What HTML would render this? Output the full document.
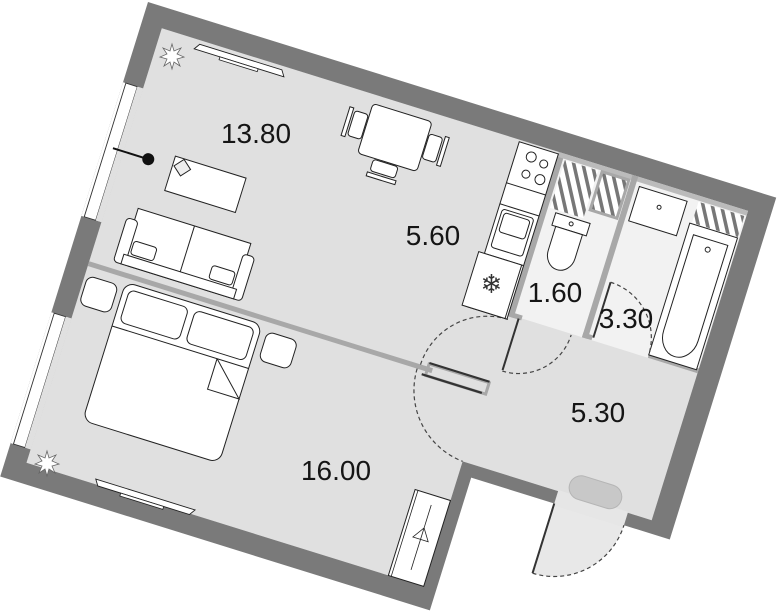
<!DOCTYPE html>
<html><head><meta charset="utf-8"><style>
html,body{margin:0;padding:0;background:#fff;width:780px;height:615px;overflow:hidden;}
svg{display:block;}
text{font-family:"Liberation Sans",sans-serif;font-size:28px;fill:#151515;text-anchor:middle;}
</style></head><body>
<svg width="780" height="615" viewBox="0 0 780 615" xmlns="http://www.w3.org/2000/svg">
<defs>
<pattern id="hatch" width="9" height="9" patternUnits="userSpaceOnUse" patternTransform="rotate(-30)">
<rect width="9" height="9" fill="#fff"/>
<rect x="0" y="0" width="3.5" height="9" fill="#777"/>
</pattern>
</defs>
<g transform="translate(148,2) rotate(17.3)">
  <polygon points="21,21 635,21 635,345 437,345 437,476 21,476" fill="#e0e0e0"/>
  <rect x="437" y="21" width="198" height="170" fill="#f2f2f2"/>
  <path d="M537,358 L610,358 A73,73 0 0 1 537,431 Z" fill="#e8e8e8"/>
  <rect x="537" y="344" width="73" height="16" fill="#e6e6e6"/>
  <path d="M0,0 L658,0 L658,358 L610,358 L610,345 L635,345 L635,21 L21,21 L21,476 L437,476 L437,345 L537,345 L537,358 L450,358 L450,497 L0,497 Z" fill="#7a7a7a"/>
  <rect x="0" y="84" width="21" height="140" fill="#fff"/>
  <rect x="3" y="84" width="12" height="140" fill="#fff" stroke="#333" stroke-width="0.9"/>
  <rect x="15" y="84" width="6" height="140" fill="#e0e0e0"/>
  <rect x="0" y="325" width="21" height="137" fill="#fff"/>
  <rect x="3" y="325" width="12" height="137" fill="#fff" stroke="#333" stroke-width="0.9"/>
  <rect x="15" y="325" width="6" height="137" fill="#e0e0e0"/>
  <line x1="10" y1="150" x2="46" y2="150" stroke="#111" stroke-width="2"/>
  <circle cx="47" cy="150" r="6" fill="#111"/>
  <rect x="21" y="265" width="360" height="5" fill="#a8a8a8"/>
  <rect x="376" y="262" width="63" height="12" fill="none" stroke="#a8a8a8" stroke-width="3"/>
  <line x1="376" y1="261" x2="439" y2="261" stroke="#333" stroke-width="2.2"/>
  <line x1="372" y1="274" x2="435" y2="274" stroke="#333" stroke-width="2.2"/>
  <path d="M438,196 A70,70 0 0 0 368,266" fill="none" stroke="#444" stroke-width="1.2" stroke-dasharray="4,3"/>
  <path d="M366,270 A76,76 0 0 0 437,345" fill="none" stroke="#444" stroke-width="1.2" stroke-dasharray="4,3"/>
  <rect x="437" y="21" width="6" height="172" fill="#a8a8a8"/>
  <rect x="437" y="21" width="198" height="5" fill="#bbb"/>
  <rect x="514" y="21" width="6" height="170" fill="#a8a8a8"/>
  <rect x="437" y="188" width="14" height="5" fill="#a8a8a8"/>
  <rect x="514" y="186" width="10" height="5" fill="#a8a8a8"/>
  <rect x="583" y="186" width="52" height="5" fill="#a8a8a8"/>
  <rect x="445" y="27" width="35" height="50" fill="url(#hatch)"/>
  <rect x="484" y="27" width="28" height="40" fill="url(#hatch)" stroke="#a8a8a8" stroke-width="3"/>
  <rect x="585" y="27" width="48" height="22" fill="url(#hatch)"/>
  <rect x="452" y="80" width="36" height="13" fill="#fff" stroke="#222" stroke-width="1"/>
  <circle cx="470" cy="86" r="2" fill="none" stroke="#222"/>
  <path d="M456,93 L484,93 L484,118 A14,16 0 0 1 456,118 Z" fill="#fff" stroke="#222" stroke-width="1"/>
  <rect x="524" y="30" width="50" height="36" fill="#fff" stroke="#222" stroke-width="1"/>
  <circle cx="549" cy="44" r="2" fill="none" stroke="#222"/>
  <rect x="583" y="50" width="50" height="138" fill="#fff" stroke="#222" stroke-width="1"/>
  <path d="M590,60 L626,60 L626,160 A18,22 0 0 1 590,160 Z" fill="#fff" stroke="#222" stroke-width="1"/>
  <circle cx="608" cy="70" r="2.5" fill="none" stroke="#222"/>
  <line x1="448" y1="192" x2="448" y2="246" stroke="#333" stroke-width="2"/>
  <path d="M448,247 A55,55 0 0 0 503,192" fill="none" stroke="#444" stroke-width="1.2" stroke-dasharray="4,3"/>
  <line x1="525" y1="130" x2="525" y2="188" stroke="#333" stroke-width="2"/>
  <path d="M525,130 A58,58 0 0 1 583,188" fill="none" stroke="#444" stroke-width="1.2" stroke-dasharray="4,3"/>
  <line x1="537" y1="358" x2="537" y2="431" stroke="#333" stroke-width="2"/>
  <path d="M537,431 A73,73 0 0 0 610,358" fill="none" stroke="#444" stroke-width="1.2" stroke-dasharray="4,3"/>
  <rect x="546" y="323" width="54" height="24" rx="12" fill="#c8c8c8" stroke="#b5b5b5"/>
  <rect x="396" y="23" width="41" height="173" fill="#fff" stroke="#222" stroke-width="1"/>
  <line x1="396" y1="66" x2="437" y2="66" stroke="#222"/>
  <circle cx="412" cy="34" r="5" fill="none" stroke="#222"/>
  <circle cx="426" cy="37" r="4" fill="none" stroke="#222"/>
  <circle cx="412" cy="52" r="4" fill="none" stroke="#222"/>
  <circle cx="427" cy="53" r="5" fill="none" stroke="#222"/>
  <line x1="396" y1="88" x2="437" y2="88" stroke="#222"/>
  <rect x="400" y="92" width="33" height="40" rx="3" fill="#fff" stroke="#222"/>
  <rect x="403" y="95" width="27" height="20" rx="3" fill="#fff" stroke="#222"/>
  <line x1="396" y1="140" x2="437" y2="140" stroke="#222"/>
  <rect x="390" y="140" width="45" height="56" fill="#fff" stroke="#222"/>
  <text x="412" y="176" style="font-size:26px;fill:#333" transform="rotate(-17 412 168)">❄</text>
  <rect x="245" y="30" width="62" height="52" rx="4" fill="#fff" stroke="#222"/>
  <rect x="230" y="42" width="14" height="26" rx="3" fill="#fff" stroke="#222"/>
  <rect x="224" y="40" width="4" height="30" fill="#fff" stroke="#222"/>
  <rect x="308" y="42" width="14" height="26" rx="3" fill="#fff" stroke="#222"/>
  <rect x="324" y="40" width="4" height="30" fill="#fff" stroke="#222"/>
  <rect x="262" y="83" width="26" height="12" rx="3" fill="#fff" stroke="#222"/>
  <rect x="260" y="97" width="30" height="4" fill="#fff" stroke="#222"/>
  <polygon points="62,25 148,25 152,31 58,31" fill="#fff" stroke="#222" stroke-width="0.9"/>
  <rect x="85" y="31" width="40" height="3" fill="#fff" stroke="#222" stroke-width="0.8"/>
  <rect x="72" y="139" width="74" height="36" fill="#fff" stroke="#222"/>
  <rect x="76" y="142" width="12" height="12" fill="#eee" stroke="#222" transform="rotate(40 82 148)"/>
  <rect x="52" y="200" width="118" height="58" fill="#fff" stroke="#222"/>
  <line x1="111" y1="200" x2="111" y2="258" stroke="#222"/>
  <rect x="44" y="212" width="12" height="46" rx="4" fill="#fff" stroke="#222"/>
  <rect x="166" y="212" width="12" height="46" rx="4" fill="#fff" stroke="#222"/>
  <rect x="52" y="248" width="118" height="10" fill="#fff" stroke="#222"/>
  <rect x="58" y="232" width="24" height="14" rx="3" fill="#fff" stroke="#222"/>
  <rect x="140" y="232" width="24" height="14" rx="3" fill="#fff" stroke="#222"/>
  <rect x="24" y="279" width="32" height="30" rx="7" fill="#fff" stroke="#222"/>
  <rect x="212" y="279" width="32" height="30" rx="7" fill="#fff" stroke="#222"/>
  <rect x="62" y="274" width="143" height="145" rx="10" fill="#fff" stroke="#222"/>
  <line x1="62" y1="320" x2="205" y2="320" stroke="#222"/>
  <rect x="68" y="280" width="62" height="34" rx="6" fill="#fff" stroke="#222"/>
  <rect x="137" y="280" width="62" height="34" rx="6" fill="#fff" stroke="#222"/>
  <polyline points="172,320 172,352 205,352 172,320" fill="#fff" stroke="#222"/>
  <polygon points="92,471 196,471 192,477 96,477" fill="#fff" stroke="#222" stroke-width="0.9"/>
  <rect x="120" y="477" width="45" height="3" fill="#fff" stroke="#222" stroke-width="0.8"/>
  <rect x="400" y="386" width="37" height="90" fill="#fff" stroke="#222"/>
  <line x1="403" y1="386" x2="403" y2="476" stroke="#222" stroke-width="0.8"/>
  <line x1="420" y1="396" x2="420" y2="464" stroke="#222" stroke-width="0.8"/>
  <path d="M420,420 L412,432 L428,432 Z" fill="none" stroke="#222" stroke-width="0.8"/>
</g>
<g fill="#fff" stroke="#666" stroke-width="0.8">
<polygon points="172,44 174,51 181,48 177,54 184,57 177,59 180,66 174,62 172,69 170,62 164,66 167,59 160,57 167,54 163,48 170,51"/>
<polygon points="47,451 49,458 56,455 52,461 59,464 52,466 55,473 49,469 47,476 45,469 39,473 42,466 35,464 42,461 38,455 45,458"/>
</g>
<text x="256" y="143">13.80</text>
<text x="433" y="245">5.60</text>
<text x="555" y="302">1.60</text>
<text x="626" y="328">3.30</text>
<text x="598" y="422">5.30</text>
<text x="336" y="480">16.00</text>
</svg>
</body></html>
